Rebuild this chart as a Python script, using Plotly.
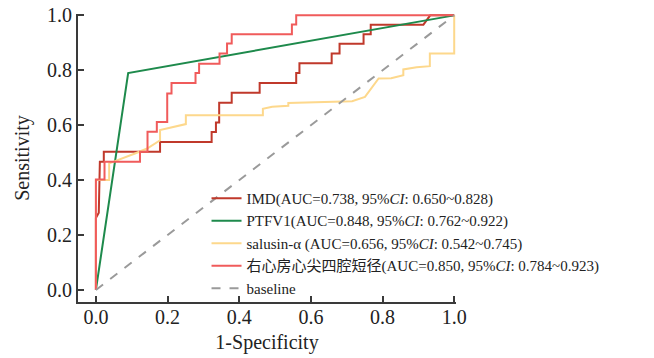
import plotly.graph_objects as go

# ---- data ----
imd_fpr = [0, 0, 0.008, 0.011, 0.022, 0.022, 0.179, 0.179, 0.323, 0.323, 0.335, 0.335, 0.344, 0.344,
           0.379, 0.379, 0.457, 0.457, 0.559, 0.559, 0.568, 0.568, 0.658, 0.658, 0.680, 0.680,
           0.747, 0.747, 0.767, 0.767, 0.914, 0.933, 1.0]
imd_tpr = [0, 0.262, 0.281, 0.467, 0.467, 0.503, 0.503, 0.539, 0.539, 0.575, 0.575, 0.610, 0.610, 0.682,
           0.682, 0.718, 0.718, 0.754, 0.754, 0.790, 0.790, 0.826, 0.826, 0.861, 0.861, 0.897,
           0.897, 0.931, 0.931, 0.966, 0.966, 1.0, 1.0]

ptfv_fpr = [0, 0.090, 1.0]
ptfv_tpr = [0, 0.790, 1.0]

sal_fpr = [0, 0, 0.037, 0.037, 0.109, 0.143, 0.179, 0.179, 0.251, 0.251, 0.466, 0.466, 0.492, 0.537,
           0.537, 0.715, 0.751, 0.789, 0.824, 0.858, 0.858, 0.895, 0.932, 0.932, 1.0, 1.0]
sal_tpr = [0, 0.400, 0.400, 0.461, 0.497, 0.515, 0.545, 0.582, 0.604, 0.636, 0.636, 0.660, 0.667, 0.671,
           0.681, 0.687, 0.703, 0.770, 0.771, 0.782, 0.803, 0.811, 0.815, 0.861, 0.861, 1.0]

ra_fpr = [0, 0, 0.024, 0.024, 0.123, 0.123, 0.144, 0.144, 0.170, 0.170, 0.199, 0.199, 0.211, 0.211,
          0.278, 0.278, 0.288, 0.288, 0.345, 0.345, 0.366, 0.366, 0.379, 0.379, 0.547, 0.547,
          0.559, 0.559, 1.0]
ra_tpr = [0, 0.402, 0.402, 0.467, 0.467, 0.503, 0.503, 0.576, 0.576, 0.612, 0.612, 0.715, 0.715, 0.754,
          0.754, 0.790, 0.790, 0.824, 0.824, 0.861, 0.861, 0.898, 0.898, 0.931, 0.931, 0.967,
          0.967, 1.0, 1.0]

base_x = [0, 1]
base_y = [0, 1]

names = [
    "IMD(AUC=0.738, 95%<i>CI</i>: 0.650~0.828)",
    "PTFV1(AUC=0.848, 95%<i>CI</i>: 0.762~0.922)",
    "salusin-α (AUC=0.656, 95%<i>CI</i>: 0.542~0.745)",
    "右心房心尖四腔短径(AUC=0.850, 95%<i>CI</i>: 0.784~0.923)",
    "baseline",
]
tick_vals = [0.0, 0.2, 0.4, 0.6, 0.8, 1.0]
tick_text = ["0.0", "0.2", "0.4", "0.6", "0.8", "1.0"]

FONT = "Liberation Serif, Noto Sans CJK SC, serif"
AX = "#3a3a3a"

fig = go.Figure()
series = [
    (imd_fpr, imd_tpr, "#c0392b", "solid"),
    (ptfv_fpr, ptfv_tpr, "#1e8a4c", "solid"),
    (sal_fpr, sal_tpr, "#fdd88c", "solid"),
    (ra_fpr, ra_tpr, "#f05b5b", "solid"),
    (base_x, base_y, "#9a9a9a", "dash"),
]
for (xs, ys, col, dash), nm in zip(series, names):
    fig.add_trace(go.Scatter(x=xs, y=ys, mode="lines", name=nm,
                             line=dict(color=col, width=2, dash=dash)))

fig.update_layout(
    width=654, height=358,
    margin=dict(l=78, r=198, t=14, b=56, autoexpand=False),
    paper_bgcolor="white", plot_bgcolor="white",
    font=dict(family=FONT, size=16, color="#222"),
    showlegend=True,
    hovermode=False,
    legend=dict(x=0.34, y=-0.01, xanchor="left", yanchor="bottom",
                bgcolor="rgba(0,0,0,0)", font=dict(family=FONT, size=15, color="#222"),
                tracegroupgap=0, itemwidth=30),
)
axis_common = dict(tickmode="array", tickvals=tick_vals, ticktext=tick_text,
                   showgrid=False, zeroline=False, showline=True, linecolor=AX, linewidth=2,
                   ticks="inside", ticklen=6, tickwidth=1.5, tickcolor=AX, automargin=False,
                   ticklabeloverflow="allow",
                   tickfont=dict(family=FONT, size=20, color="#222"))
fig.update_xaxes(range=[-0.05, 1.005], **axis_common,
                 title=dict(text="1-Specificity", font=dict(size=20), standoff=8))
fig.update_yaxes(range=[-0.044, 1.005], **axis_common,
                 title=dict(text="Sensitivity", font=dict(size=20), standoff=12))
try:
    fig.update_xaxes(ticklabelstandoff=-4)
except Exception:
    pass

# remove the default 8px page margin so the figure fills the window exactly
fig.write_html("out.html", config={"displayModeBar": False},
               post_script="document.body.style.margin='0';document.body.style.overflow='hidden';")
